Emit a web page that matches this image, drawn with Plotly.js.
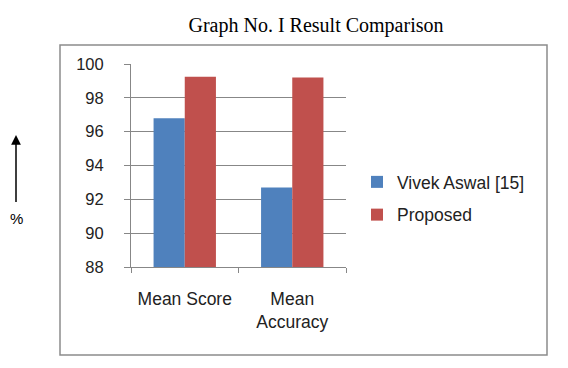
<!DOCTYPE html>
<html>
<head>
<meta charset="utf-8">
<script src="https://cdn.plot.ly/plotly-3.0.1.min.js"></script>
<style>html,body{margin:0;padding:0;background:#fff;}#chart{width:568px;height:368px;}</style>
</head>
<body>
<div id="chart"></div>
<script>
const categories = ['Mean Score', 'Mean<br>Accuracy'];
const seriesNames = ['Vivek Aswal [15]', 'Proposed'];
const vivekValues = [96.8, 92.7];
const proposedValues = [99.25, 99.2];
const yTicks = [88, 90, 92, 94, 96, 98, 100];
const titleText = 'Graph No. I Result Comparison';
const unitLabel = '%';

const W = 568, H = 368;
const L = 131, R = 222, T = 64, B = 101;
const pw = W - L - R, ph = H - T - B;
const px = x => (x - L) / pw;
const py = y => (H - B - y) / ph;

const sansFont = 'Liberation Sans, Arial, sans-serif';
const gridColor = '#878787';

const traces = [
  {type: 'bar', name: seriesNames[0], x: categories, y: vivekValues,
   marker: {color: '#4f81bd'}, legendgroup: 'a'},
  {type: 'bar', name: seriesNames[1], x: categories, y: proposedValues,
   marker: {color: '#c0504d'}, legendgroup: 'b'}
];

const layout = {
  width: W, height: H,
  margin: {l: L, r: R, t: T, b: B, pad: 0},
  paper_bgcolor: '#fff', plot_bgcolor: '#fff',
  barmode: 'group', bargap: 0.42, bargroupgap: 0,
  showlegend: true,
  title: {text: titleText, font: {family: 'Liberation Serif, Times New Roman, serif', size: 20, color: '#000'},
          xref: 'container', yref: 'container', x: 316 / W, y: 1 - 25 / H, xanchor: 'center', yanchor: 'middle'},
  xaxis: {type: 'category', showline: true, linecolor: gridColor, linewidth: 1,
          ticks: 'outside', tickson: 'boundaries', ticklen: 5, tickcolor: gridColor,
          tickfont: {family: sansFont, size: 17.5, color: '#222'}, ticklabelstandoff: 16,
          showgrid: false, zeroline: false, fixedrange: true},
  yaxis: {range: [88, 100], tickvals: yTicks, ticktext: yTicks.map(String),
          showline: true, linecolor: gridColor, linewidth: 1,
          ticks: 'outside', ticklen: 6, tickcolor: gridColor,
          showgrid: true, gridcolor: gridColor, gridwidth: 1, zeroline: false,
          tickfont: {family: sansFont, size: 16.5, color: '#222'}, ticklabelstandoff: 17, fixedrange: true},
  legend: {x: px(357), y: py(164), xanchor: 'left', yanchor: 'top',
           traceorder: 'grouped', tracegroupgap: 7,
           font: {family: sansFont, size: 17.5, color: '#222'}, bgcolor: 'rgba(0,0,0,0)'},
  shapes: [
    {type: 'rect', xref: 'paper', yref: 'paper', x0: px(60), x1: px(547), y0: py(355), y1: py(45),
     line: {color: '#8c8c8c', width: 1.5}, fillcolor: 'rgba(0,0,0,0)', layer: 'below'}
  ],
  annotations: [
    {xref: 'paper', yref: 'paper', x: px(16), y: py(135), text: unitLabel, showarrow: true,
     ax: 0, ay: 83, arrowhead: 2, arrowsize: 1.3, arrowwidth: 1.5, arrowcolor: '#000',
     startstandoff: 6, font: {family: sansFont, size: 15, color: '#000'}}
  ]
};

Plotly.newPlot('chart', traces, layout, {displayModeBar: false, staticPlot: true});
</script>
</body>
</html>
